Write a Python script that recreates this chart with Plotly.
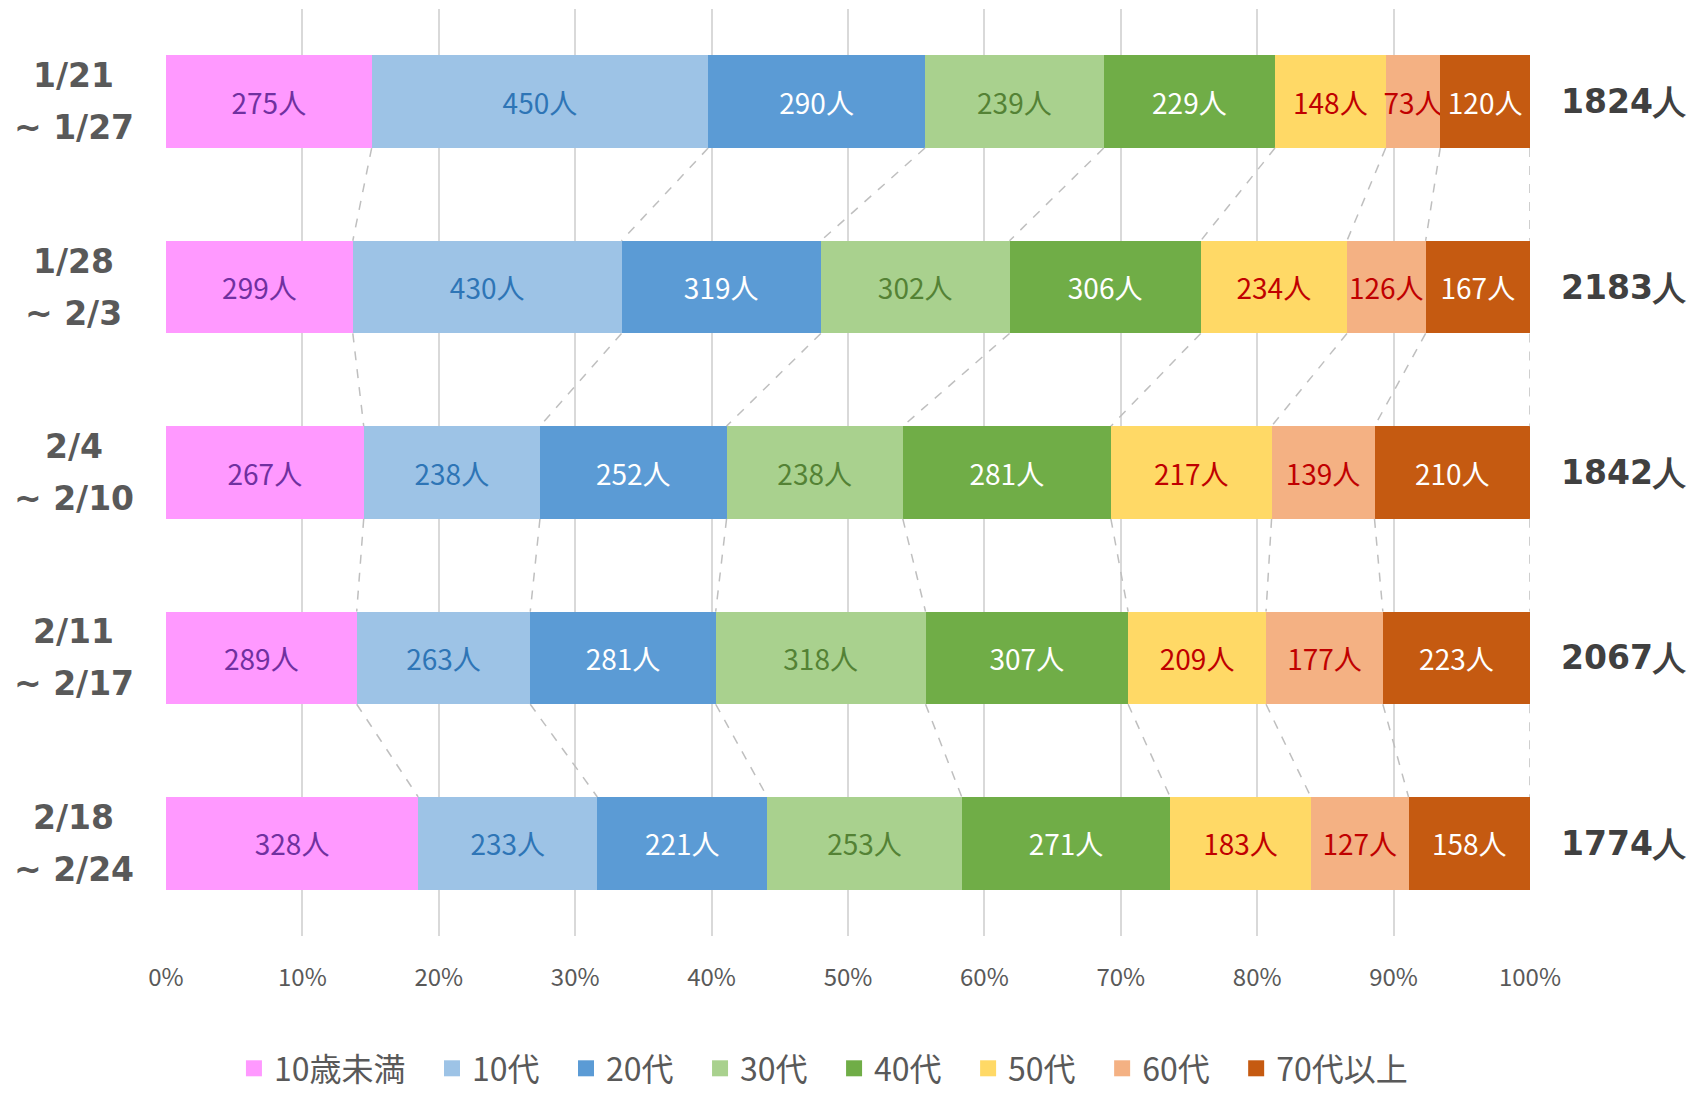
import plotly.graph_objects as go

period_start = ["1/21", "1/28", "2/4", "2/11", "2/18"]
period_end = ["1/27", "2/3", "2/10", "2/17", "2/24"]
age_groups = ["10歳未満", "10代", "20代", "30代", "40代", "50代", "60代", "70代以上"]
counts = {
    "10歳未満": [275, 299, 267, 289, 328],
    "10代":     [450, 430, 238, 263, 233],
    "20代":     [290, 319, 252, 281, 221],
    "30代":     [239, 302, 238, 318, 253],
    "40代":     [229, 306, 281, 307, 271],
    "50代":     [148, 234, 217, 209, 183],
    "60代":     [73, 126, 139, 177, 127],
    "70代以上": [120, 167, 210, 223, 158],
}
bar_colors = ["#FF99FF", "#9DC3E6", "#5B9BD5", "#A9D18E", "#70AD47", "#FFD966", "#F4B183", "#C55A11"]
text_colors = ["#7030A0", "#2E75B6", "#FFFFFF", "#548235", "#FFFFFF", "#C00000", "#C00000", "#FFFFFF"]

n = len(period_start)
ypos = list(range(n))
totals = [sum(counts[g][i] for g in age_groups) for i in range(n)]

JP = "Noto Sans CJK JP"
BOLD = "DejaVu Sans"

fig = go.Figure()

# connector lines (cumulative boundaries between consecutive bars)
cum = []
for i in range(n):
    c, row = 0, []
    for g in age_groups:
        c += counts[g][i]
        row.append(c / totals[i] * 100)
    cum.append(row)
half = 0.25
lx, ly = [], []
for i in range(n - 1):
    for k in range(len(age_groups)):
        lx += [cum[i][k], cum[i + 1][k], None]
        ly += [i + half, i + 1 - half, None]
fig.add_trace(go.Scatter(x=lx, y=ly, mode="lines", showlegend=False, hoverinfo="skip",
                         line=dict(color="#BFBFBF", width=1.5, dash="dash")))

pad = "\u00a0\u00a0\u00a0"
for j, (g, bc, tc) in enumerate(zip(age_groups, bar_colors, text_colors)):
    fig.add_trace(go.Bar(
        x=counts[g], y=ypos, orientation="h", name=g, showlegend=False,
        marker=dict(color=bc, line=dict(width=0)),
        text=[f"{v}人" for v in counts[g]], textposition="inside",
        insidetextanchor="middle", textangle=0,
        textfont=dict(family=JP, size=28, color=tc),
    ))
    fig.add_trace(go.Scatter(x=[None], y=[None], mode="markers",
                             name=g + (pad if j < len(age_groups) - 1 else ""),
                             marker=dict(symbol="square", size=22, color=bc)))

annotations = []
for i in range(n):
    annotations.append(dict(x=-0.0675, xref="paper", y=i, yref="y", yshift=26,
                            text=f"<b>{period_start[i]}</b>", showarrow=False, xanchor="center",
                            yanchor="middle", font=dict(family=BOLD, size=33, color="#595959")))
    annotations.append(dict(x=-0.0675, xref="paper", y=i, yref="y", yshift=-26,
                            text=f"<b>~ {period_end[i]}</b>", showarrow=False, xanchor="center",
                            yanchor="middle", font=dict(family=BOLD, size=33, color="#595959")))
    annotations.append(dict(x=1.069, xref="paper", y=i, yref="y",
                            text=f"<b>{totals[i]}人</b>", showarrow=False, xanchor="center",
                            yanchor="middle", font=dict(family=BOLD, size=33, color="#404040")))

W, H = 1695, 1088
ML, MT, PW, PH = 158, 1, 1364, 927
fig.update_layout(
    width=W, height=H,
    margin=dict(l=ML, r=W - ML - PW, t=MT, b=H - MT - PH, autoexpand=False),
    paper_bgcolor="white", plot_bgcolor="white",
    barmode="stack", barnorm="percent", bargap=0.5,
    uniformtext=dict(minsize=28, mode="show"),
    annotations=annotations,
    legend=dict(orientation="h", x=0.482, xanchor="center", y=0, yanchor="bottom",
                yref="container",
                font=dict(family=JP, size=32, color="#595959"), itemwidth=30,
                traceorder="normal"),
    xaxis=dict(range=[0, 100], dtick=10, ticksuffix="%", showgrid=True,
               gridcolor="#D9D9D9", gridwidth=1.5, zeroline=False, showline=False,
               ticks="", ticklabelstandoff=25,
               tickfont=dict(family=JP, size=24, color="#595959")),
    yaxis=dict(range=[n - 0.5, -0.5], showticklabels=False, showgrid=False,
               zeroline=False, showline=False, ticks=""),
    showlegend=True,
)

fig.write_html("out.html")
